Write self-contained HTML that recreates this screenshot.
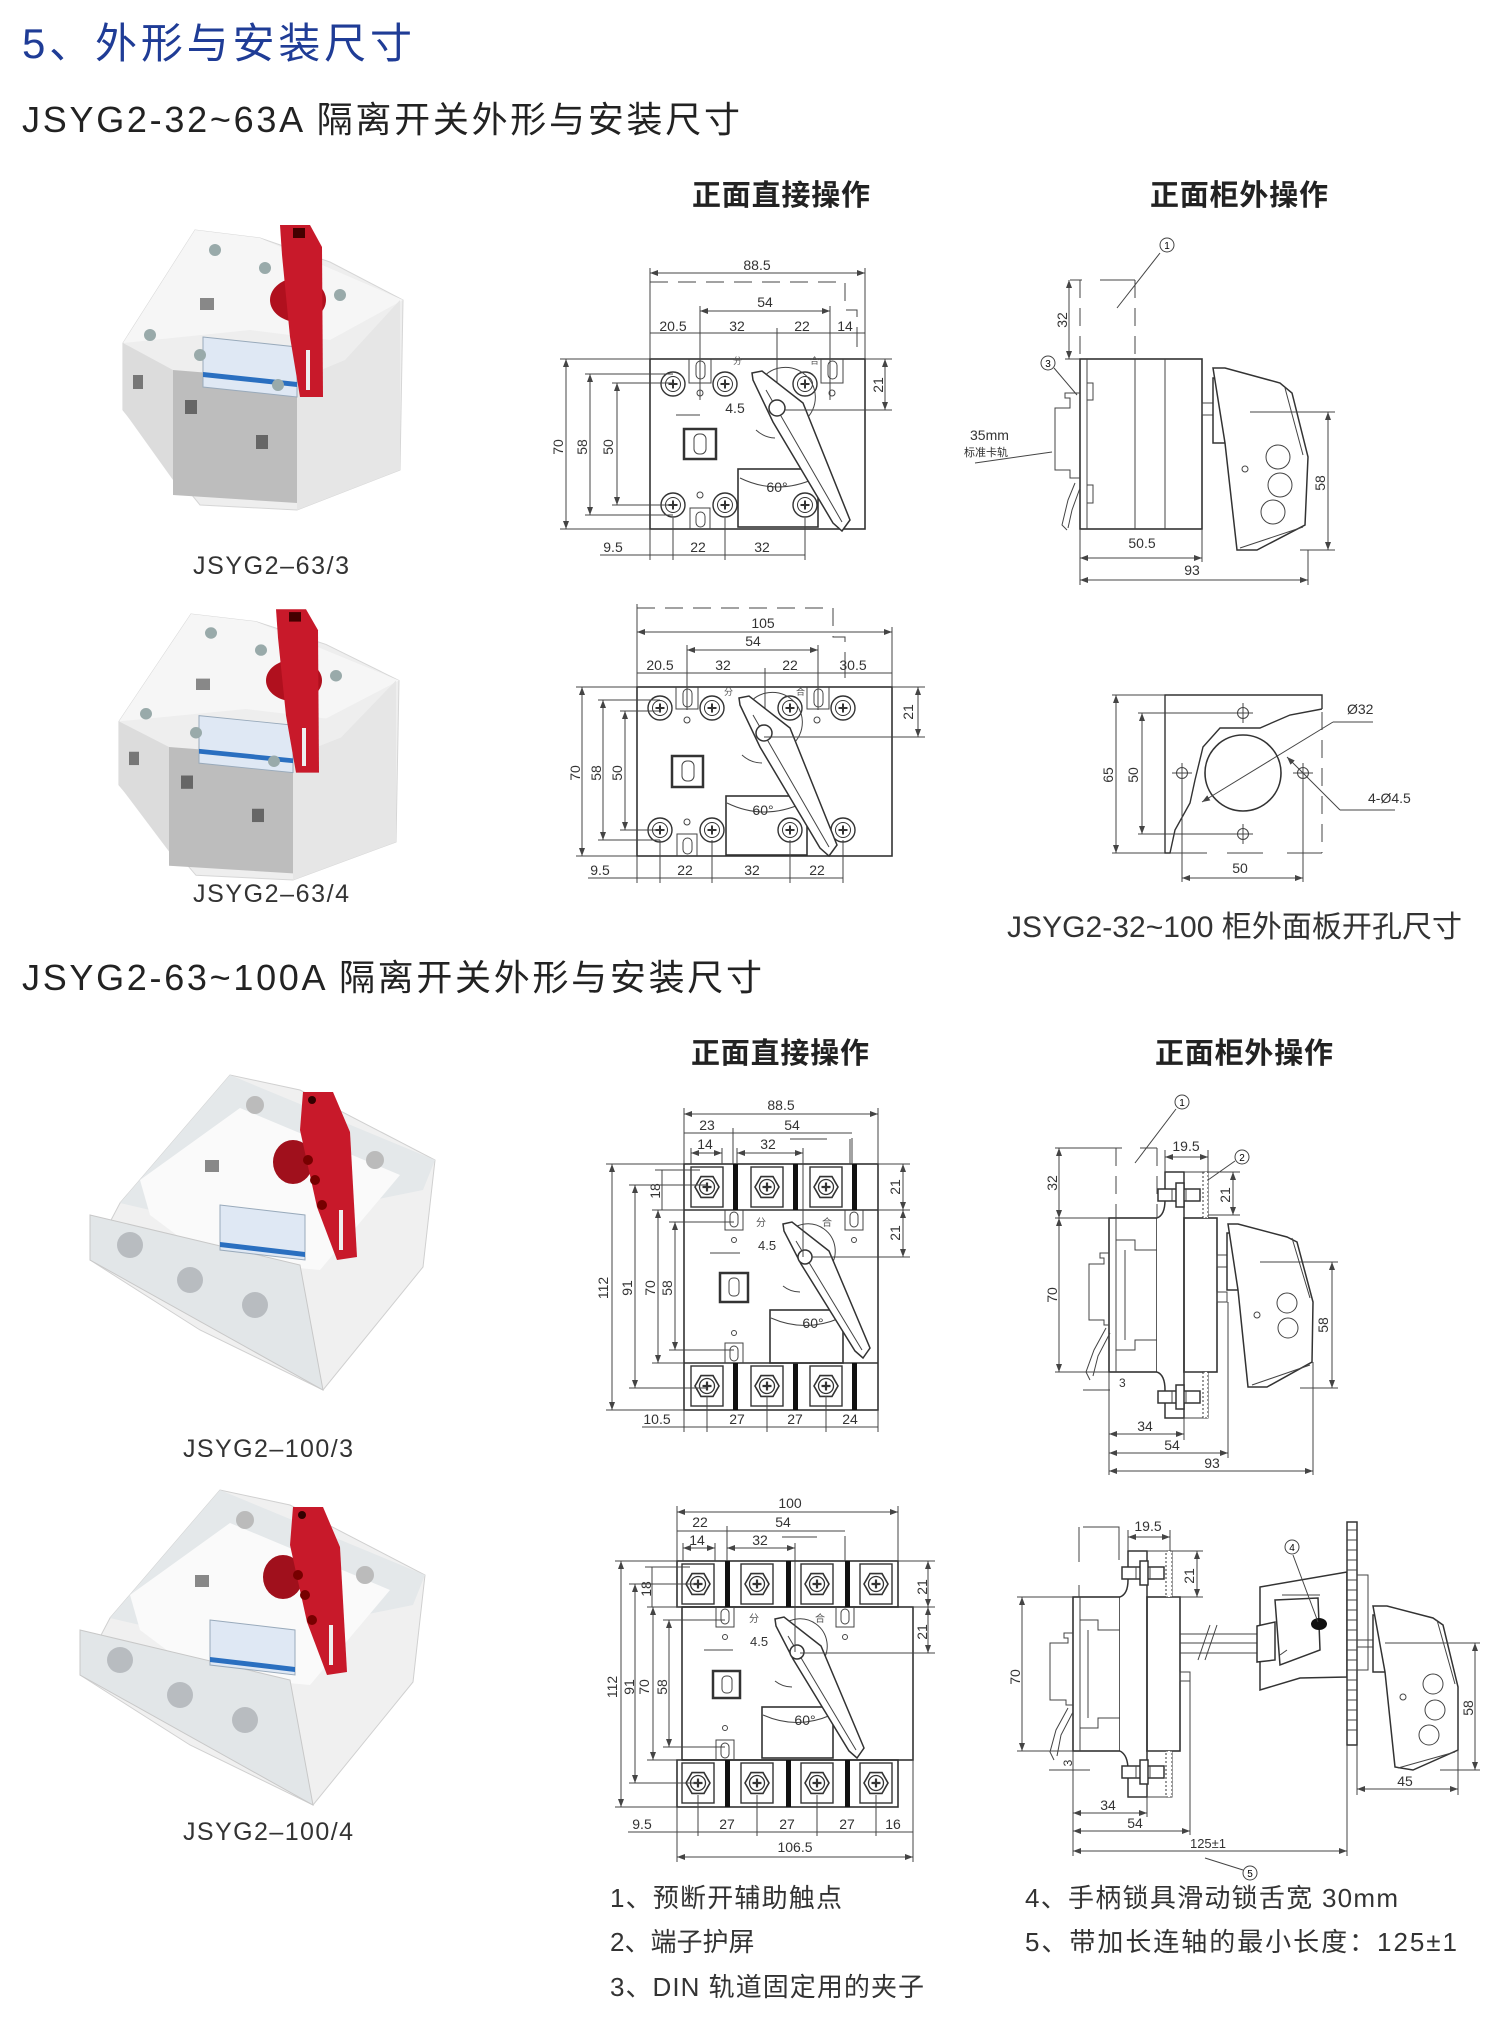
<!DOCTYPE html>
<html><head><meta charset="utf-8">
<style>
html,body{margin:0;padding:0;background:#fff;}
svg{display:block}
text{font-family:"Liberation Sans","Noto Sans CJK SC",sans-serif;}
.d{font-size:14px;fill:#333}
.s{font-size:12px;fill:#333}
.ln{stroke:#444;stroke-width:1;fill:none}
.th{stroke:#333;stroke-width:1.6;fill:none}
.wf{stroke:#333;stroke-width:1.5;fill:#fff}
.dash{stroke:#444;stroke-width:1;fill:none;stroke-dasharray:18 10}
.h2{font-size:29px;fill:#222;font-weight:bold}
.lab{font-size:25px;fill:#333}
.note{font-size:26px;fill:#333}
</style></head>
<body>
<svg width="1500" height="2039" viewBox="0 0 1500 2039" xmlns="http://www.w3.org/2000/svg">
<defs>
<marker id="a" markerWidth="8" markerHeight="6" refX="8" refY="3" orient="auto-start-reverse"><path d="M0,0 L8,3 L0,6 z" fill="#444"/></marker>
<g id="scr"><circle r="12" fill="#fff" stroke="#333" stroke-width="1.4"/><circle r="7.5" fill="none" stroke="#333"/><path d="M-4.5,0H4.5M0,-4.5V4.5" stroke="#333" stroke-width="2"/></g>
<g id="term"><rect x="-16" y="-20" width="32" height="40" fill="#fff" stroke="#333" stroke-width="1.4"/><polygon points="12,0 6,10.4 -6,10.4 -12,0 -6,-10.4 6,-10.4" fill="#fff" stroke="#333" stroke-width="1.6"/><circle r="7.5" fill="none" stroke="#333" stroke-width="1.3"/><path d="M-4.5,0H4.5M0,-4.5V4.5" stroke="#333" stroke-width="2.2"/></g>
<g id="bolt"><rect x="0" y="-6" width="42" height="12" class="wf"/><path d="M14,-6V6M28,-6V6" class="ln"/><rect x="18" y="-12" width="8" height="24" class="wf"/></g>
<g id="photoA">
 <polygon points="123,343 195,230 260,238 330,262 403,300 400,470 297,510 200,505 123,410" fill="#eeeeee" stroke="#d6d6d6"/>
 <polygon points="195,230 260,238 403,300 330,340 250,330 123,343" fill="#f6f6f6"/>
 <polygon points="173,370 297,380 297,503 173,495" fill="#bdbdbd"/>
 <polygon points="297,380 345,360 400,300 400,470 297,510" fill="#e6e6e6"/>
 <polygon points="123,343 173,370 173,480 123,410" fill="#dcdcdc"/>
 <rect x="133" y="375" width="10" height="14" fill="#777"/>
 <rect x="185" y="400" width="12" height="14" fill="#666"/><rect x="256" y="435" width="12" height="14" fill="#666"/>
 <polygon points="203,337 297,347 297,397 203,387" fill="#dfe8f4" stroke="#9ab"/>
 <polygon points="203,372 297,382 297,387 203,377" fill="#2a6fc0"/>
 <rect x="200" y="298" width="14" height="12" fill="#888"/>
 <circle cx="215" cy="250" r="6" fill="#9aa"/><circle cx="265" cy="268" r="6" fill="#9aa"/><circle cx="150" cy="335" r="6" fill="#9aa"/><circle cx="200" cy="355" r="6" fill="#9aa"/><circle cx="340" cy="295" r="6" fill="#9aa"/><circle cx="278" cy="385" r="6" fill="#9aa"/>
 <ellipse cx="298" cy="300" rx="28" ry="22" fill="#b0101e"/>
 <polygon points="280,225 310,225 322,247 323,397 300,397 290,337 282,255" fill="#c8192a"/>
 <rect x="293" y="228" width="12" height="10" fill="#400"/>
 <rect x="306" y="350" width="4" height="40" fill="#eee"/>
</g>
<g id="photoB">
 <polygon points="120,1203 230,1075 300,1090 435,1160 423,1267 323,1390 200,1330 90,1260" fill="#f0f0f0" stroke="#d0d0d0"/>
 <polygon points="230,1075 435,1160 423,1190 300,1215 150,1210 120,1203" fill="#e4e8ea"/>
 <polygon points="140,1180 240,1108 400,1175 320,1270 210,1260 150,1215" fill="#fafafa"/>
 <polygon points="90,1215 300,1265 323,1390 90,1260" fill="#e2e6e8" stroke="#c8c8c8"/>
 <circle cx="130" cy="1245" r="13" fill="#b8bcc0"/><circle cx="190" cy="1280" r="13" fill="#b8bcc0"/><circle cx="255" cy="1305" r="13" fill="#b8bcc0"/>
 <circle cx="255" cy="1105" r="9" fill="#bbb"/><circle cx="375" cy="1160" r="9" fill="#bbb"/>
 <polygon points="220,1205 305,1215 305,1260 220,1250" fill="#dfe8f4" stroke="#9ab"/>
 <polygon points="220,1242 305,1252 305,1257 220,1247" fill="#2a6fc0"/>
 <rect x="205" y="1160" width="14" height="12" fill="#888"/>
 <ellipse cx="293" cy="1162" rx="20" ry="22" fill="#a0101c"/>
 <polygon points="303,1092 333,1092 350,1132 357,1257 337,1260 317,1207 300,1130" fill="#c8192a"/>
 <circle cx="312" cy="1100" r="4" fill="#300"/>
 <circle cx="308" cy="1160" r="5" fill="#700"/><circle cx="315" cy="1180" r="5" fill="#700"/><circle cx="322" cy="1205" r="5" fill="#700"/>
 <rect x="339" y="1210" width="4" height="40" fill="#eee"/>
</g>
</defs>

<!-- titles -->
<text x="22" y="58" font-size="42" fill="#1f3c96" textLength="390">5、外形与安装尺寸</text>
<text x="22" y="132" font-size="36" fill="#222" textLength="718">JSYG2-32~63A 隔离开关外形与安装尺寸</text>
<text x="692" y="205" class="h2" textLength="178">正面直接操作</text>
<text x="1150" y="205" class="h2" textLength="178">正面柜外操作</text>

<use href="#photoA"/>
<text x="193" y="574" class="lab" textLength="156">JSYG2–63/3</text>
<use href="#photoA" transform="translate(-4,386) scale(1,0.95) translate(0,10)"/>
<text x="193" y="902" class="lab" textLength="156">JSYG2–63/4</text>

<!-- Drawing 1 -->
<g>
<rect x="650" y="359" width="215" height="170" class="th"/>
<path d="M650,282H845V310H857V347" class="dash"/>
<line x1="650" y1="273" x2="865" y2="273" class="ln" marker-start="url(#a)" marker-end="url(#a)"/>
<path d="M650,268V359M865,268V359" class="ln"/>
<text x="757" y="270" class="d" text-anchor="middle">88.5</text>
<line x1="700" y1="311" x2="830" y2="311" class="ln" marker-start="url(#a)" marker-end="url(#a)"/>
<text x="765" y="307" class="d" text-anchor="middle">54</text>
<line x1="650" y1="333" x2="865" y2="333" class="ln"/>
<path d="M700,306V400M830,306V400M777,328V408M857,328V347" class="ln"/>
<text x="673" y="331" class="d" text-anchor="middle">20.5</text><text x="737" y="331" class="d" text-anchor="middle">32</text><text x="802" y="331" class="d" text-anchor="middle">22</text><text x="845" y="331" class="d" text-anchor="middle">14</text>
<use href="#scr" x="673" y="384"/><use href="#scr" x="725" y="384"/><use href="#scr" x="805" y="384"/>
<use href="#scr" x="673" y="505"/><use href="#scr" x="725" y="505"/><use href="#scr" x="805" y="505"/>
<path d="M689,359V383H711V359M821,359V383H843V359" class="ln"/><rect x="696" y="361" width="9" height="18" rx="4.5" class="ln"/><rect x="828" y="361" width="9" height="18" rx="4.5" class="ln"/>
<path d="M690,529V508H710V529" class="ln"/><rect x="696" y="512" width="9" height="15" rx="4.5" class="ln"/>
<circle cx="700" cy="393" r="3" class="ln"/><circle cx="832" cy="393" r="3" class="ln"/><circle cx="700" cy="495" r="3" class="ln"/>
<rect x="684" y="429" width="32" height="30" fill="#fff" stroke="#333" stroke-width="2.5"/><rect x="694" y="434" width="12" height="20" rx="5" class="ln" stroke-width="1.5"/>
<rect x="738" y="469" width="80" height="58" class="th"/>
<path d="M758,385 A30,30 0 1 1 805,420" class="ln"/>
<path d="M756,430 A30,30 0 0 0 775,438" class="ln" stroke-width="3"/>
<path d="M740,478 Q777,496 816,478" class="ln"/>
<polygon points="752,373 762,371 803,403 850,520 842,531 833,523 773,422 753,380" class="wf"/>
<line x1="766" y1="390" x2="842" y2="522" class="ln"/>
<circle cx="777" cy="408" r="8" class="wf"/>
<text x="777" y="492" class="d" text-anchor="middle">60°</text>
<text x="735" y="413" class="d" text-anchor="middle">4.5</text>
<line x1="676" y1="415" x2="700" y2="415" class="ln"/>
<text x="733" y="364" font-size="9" fill="#555">分</text><text x="810" y="364" font-size="9" fill="#555">合</text>
<path d="M560,359H650M585,374H673M612,383H673M560,529H650M585,515H673M612,505H673" class="ln"/>
<line x1="566" y1="359" x2="566" y2="529" class="ln" marker-start="url(#a)" marker-end="url(#a)"/>
<line x1="590" y1="374" x2="590" y2="515" class="ln" marker-start="url(#a)" marker-end="url(#a)"/>
<line x1="617" y1="383" x2="617" y2="505" class="ln" marker-start="url(#a)" marker-end="url(#a)"/>
<text transform="translate(563,447) rotate(-90)" class="d" text-anchor="middle">70</text>
<text transform="translate(587,447) rotate(-90)" class="d" text-anchor="middle">58</text>
<text transform="translate(613,447) rotate(-90)" class="d" text-anchor="middle">50</text>
<path d="M865,359H892M785,410H892" class="ln"/>
<line x1="885" y1="359" x2="885" y2="410" class="ln" marker-start="url(#a)" marker-end="url(#a)"/>
<text transform="translate(883,385) rotate(-90)" class="d" text-anchor="middle">21</text>
<path d="M650,529V560M673,518V560M725,518V560M805,518V560" class="ln"/>
<line x1="600" y1="555" x2="805" y2="555" class="ln"/>
<text x="613" y="552" class="d" text-anchor="middle">9.5</text><text x="698" y="552" class="d" text-anchor="middle">22</text><text x="762" y="552" class="d" text-anchor="middle">32</text>
</g>

<!-- Side 1 -->
<g>
<rect x="1080" y="359" width="122" height="170" class="th"/>
<path d="M1087,359V529M1135,359V529M1165,359V529" class="ln"/>
<path d="M1087,383H1093V400H1087M1087,485H1093V503H1087" class="ln"/>
<path d="M1080,280V359M1135,280V359" class="dash"/>
<path d="M1070,280H1082M1100,280H1135" class="ln"/>
<line x1="1069" y1="280" x2="1069" y2="359" class="ln" marker-start="url(#a)" marker-end="url(#a)"/>
<path d="M1065,359H1080" class="ln"/>
<text transform="translate(1067,320) rotate(-90)" class="d" text-anchor="middle">32</text>
<path d="M1080,393H1065V398H1070V408H1055V470H1070V478H1080" class="ln"/>
<path d="M1075,483L1068,500L1062,525L1067,530M1080,488L1072,510L1068,528" class="ln"/>
<circle cx="1048" cy="363" r="7" class="ln"/><text x="1048" y="367" font-size="10" text-anchor="middle">3</text>
<line x1="1054" y1="368" x2="1077" y2="395" class="ln"/>
<text x="970" y="440" font-size="14" fill="#333">35mm</text>
<text x="964" y="456" font-size="11" fill="#333">标准卡轨</text>
<path d="M975,463L1052,452" class="ln"/>
<circle cx="1167" cy="245" r="7" class="ln"/><text x="1167" y="249" font-size="10" text-anchor="middle">1</text>
<path d="M1160,253L1117,308" class="ln"/>
<rect x="1202" y="403" width="48" height="12" class="ln"/>
<rect x="1213" y="378" width="12" height="65" class="wf"/>
<polygon points="1213,368 1225,368 1280,383 1292,393 1308,457 1305,525 1257,550 1237,550 1225,443" class="wf"/>
<path d="M1285,388L1303,455" class="ln"/>
<path d="M1240,548L1303,527" class="ln"/>
<circle cx="1278" cy="457" r="12" class="ln"/><circle cx="1280" cy="485" r="12" class="ln"/><circle cx="1273" cy="512" r="12" class="ln"/>
<circle cx="1245" cy="469" r="3" class="ln"/>
<path d="M1250,412H1335M1300,550H1335" class="ln"/>
<line x1="1328" y1="412" x2="1328" y2="550" class="ln" marker-start="url(#a)" marker-end="url(#a)"/>
<text transform="translate(1325,483) rotate(-90)" class="d" text-anchor="middle">58</text>
<path d="M1080,529V585M1202,529V562M1308,550V585" class="ln"/>
<line x1="1080" y1="558" x2="1202" y2="558" class="ln" marker-start="url(#a)" marker-end="url(#a)"/>
<line x1="1080" y1="580" x2="1308" y2="580" class="ln" marker-start="url(#a)" marker-end="url(#a)"/>
<text x="1142" y="548" class="d" text-anchor="middle">50.5</text><text x="1192" y="575" class="d" text-anchor="middle">93</text>
</g>

<!-- Drawing 2 -->
<g>
<rect x="637" y="687" width="255" height="169" class="th"/>
<path d="M637,608H833V637H845V672" class="dash"/>
<line x1="637" y1="632" x2="892" y2="632" class="ln" marker-start="url(#a)" marker-end="url(#a)"/>
<path d="M637,604V687M892,627V687" class="ln"/>
<text x="763" y="628" class="d" text-anchor="middle">105</text>
<line x1="687" y1="650" x2="818" y2="650" class="ln" marker-start="url(#a)" marker-end="url(#a)"/>
<text x="753" y="646" class="d" text-anchor="middle">54</text>
<line x1="637" y1="673" x2="892" y2="673" class="ln"/>
<path d="M687,645V710M818,645V710M765,668V735M845,668V678" class="ln"/>
<text x="660" y="670" class="d" text-anchor="middle">20.5</text><text x="723" y="670" class="d" text-anchor="middle">32</text><text x="790" y="670" class="d" text-anchor="middle">22</text><text x="853" y="670" class="d" text-anchor="middle">30.5</text>
<use href="#scr" x="660" y="708"/><use href="#scr" x="712" y="708"/><use href="#scr" x="790" y="708"/><use href="#scr" x="843" y="708"/>
<use href="#scr" x="660" y="830"/><use href="#scr" x="712" y="830"/><use href="#scr" x="790" y="830"/><use href="#scr" x="843" y="830"/>
<path d="M676,687V709H698V687M807,687V709H829V687" class="ln"/><rect x="683" y="689" width="9" height="18" rx="4.5" class="ln"/><rect x="814" y="689" width="9" height="18" rx="4.5" class="ln"/>
<path d="M677,856V834H697V856" class="ln"/><rect x="683" y="838" width="9" height="16" rx="4.5" class="ln"/>
<circle cx="687" cy="720" r="3" class="ln"/><circle cx="817" cy="720" r="3" class="ln"/><circle cx="687" cy="822" r="3" class="ln"/>
<rect x="672" y="756" width="31" height="31" fill="#fff" stroke="#333" stroke-width="2.5"/><rect x="682" y="761" width="12" height="20" rx="5" class="ln" stroke-width="1.5"/>
<rect x="726" y="796" width="81" height="59" class="th"/>
<path d="M745,710 A30,30 0 1 1 792,745" class="ln"/>
<path d="M742,755 A30,30 0 0 0 762,763" class="ln" stroke-width="3"/>
<path d="M727,803 Q764,821 803,803" class="ln"/>
<polygon points="739,698 749,696 790,728 837,845 829,856 820,848 760,747 740,705" class="wf"/>
<line x1="753" y1="715" x2="829" y2="847" class="ln"/>
<circle cx="764" cy="733" r="8" class="wf"/>
<text x="763" y="815" class="d" text-anchor="middle">60°</text>
<text x="724" y="695" font-size="9" fill="#555">分</text><text x="796" y="695" font-size="9" fill="#555">合</text>
<path d="M576,687H637M598,700H660M620,711H660M576,856H637M598,840H660M620,830H660" class="ln"/>
<line x1="582" y1="687" x2="582" y2="856" class="ln" marker-start="url(#a)" marker-end="url(#a)"/>
<line x1="603" y1="700" x2="603" y2="840" class="ln" marker-start="url(#a)" marker-end="url(#a)"/>
<line x1="625" y1="711" x2="625" y2="830" class="ln" marker-start="url(#a)" marker-end="url(#a)"/>
<text transform="translate(580,773) rotate(-90)" class="d" text-anchor="middle">70</text>
<text transform="translate(601,773) rotate(-90)" class="d" text-anchor="middle">58</text>
<text transform="translate(622,773) rotate(-90)" class="d" text-anchor="middle">50</text>
<path d="M892,687H925M764,737H925" class="ln"/>
<line x1="918" y1="687" x2="918" y2="737" class="ln" marker-start="url(#a)" marker-end="url(#a)"/>
<text transform="translate(913,712) rotate(-90)" class="d" text-anchor="middle">21</text>
<path d="M637,856V883M660,840V883M712,840V883M790,840V883M843,840V883" class="ln"/>
<line x1="588" y1="878" x2="843" y2="878" class="ln"/>
<text x="600" y="875" class="d" text-anchor="middle">9.5</text><text x="685" y="875" class="d" text-anchor="middle">22</text><text x="752" y="875" class="d" text-anchor="middle">32</text><text x="817" y="875" class="d" text-anchor="middle">22</text>
</g>

<!-- Panel cut -->
<g>
<path d="M1322,709L1290,715L1260,728H1220L1203,747L1195,780L1190,803L1175,830L1170,853H1165V695H1322V709" fill="none" stroke="#333" stroke-width="1.4"/>
<path d="M1322,712V853" class="dash"/>
<path d="M1170,853H1207M1227,853H1263M1287,853H1322" class="ln"/>
<circle cx="1243" cy="773" r="38" class="th"/>
<circle cx="1243" cy="713" r="5.5" class="ln"/><circle cx="1243" cy="834" r="5.5" class="ln"/><circle cx="1182" cy="773" r="5.5" class="ln"/><circle cx="1303" cy="773" r="5.5" class="ln"/>
<path d="M1233,713H1253M1243,703V723M1233,834H1253M1243,824V844M1172,773H1192M1182,763V783M1293,773H1313M1303,763V783" class="ln" stroke-width="0.7"/>
<line x1="1333" y1="722" x2="1202" y2="802" class="ln" marker-end="url(#a)"/><line x1="1333" y1="722" x2="1373" y2="722" class="ln"/>
<text x="1347" y="714" class="d">Ø32</text>
<line x1="1340" y1="810" x2="1287" y2="757" class="ln" marker-end="url(#a)"/><line x1="1340" y1="810" x2="1395" y2="810" class="ln"/>
<text x="1368" y="803" class="d">4-Ø4.5</text>
<path d="M1112,695H1165M1138,713H1240M1138,834H1240M1112,853H1165" class="ln"/>
<line x1="1116" y1="695" x2="1116" y2="853" class="ln" marker-start="url(#a)" marker-end="url(#a)"/>
<line x1="1142" y1="713" x2="1142" y2="834" class="ln" marker-start="url(#a)" marker-end="url(#a)"/>
<text transform="translate(1113,775) rotate(-90)" class="d" text-anchor="middle">65</text>
<text transform="translate(1138,775) rotate(-90)" class="d" text-anchor="middle">50</text>
<path d="M1182,780V882M1303,780V882" class="ln"/>
<line x1="1182" y1="878" x2="1303" y2="878" class="ln" marker-start="url(#a)" marker-end="url(#a)"/>
<text x="1240" y="873" class="d" text-anchor="middle">50</text>
</g>
<text x="1007" y="937" font-size="30" fill="#333" textLength="455">JSYG2-32~100 柜外面板开孔尺寸</text>

<!-- Section 2 -->
<text x="22" y="990" font-size="36" fill="#222" textLength="740">JSYG2-63~100A 隔离开关外形与安装尺寸</text>
<text x="691" y="1063" class="h2" textLength="178">正面直接操作</text>
<text x="1155" y="1063" class="h2" textLength="178">正面柜外操作</text>

<use href="#photoB"/>
<text x="183" y="1457" class="lab" textLength="170">JSYG2–100/3</text>
<use href="#photoB" transform="translate(-10,415)"/>
<text x="183" y="1840" class="lab" textLength="170">JSYG2–100/4</text>

<!-- Drawing 3 -->
<g>
<rect x="684" y="1164" width="194" height="246" class="th"/>
<path d="M684,1210H878M684,1363H878" class="th"/>
<use href="#term" x="707" y="1187"/><use href="#term" x="767" y="1187"/><use href="#term" x="826" y="1187"/>
<use href="#term" x="707" y="1386"/><use href="#term" x="767" y="1386"/><use href="#term" x="826" y="1386"/>
<rect x="733" y="1164" width="5" height="46" fill="#111"/><rect x="793" y="1164" width="5" height="46" fill="#111"/><rect x="852" y="1164" width="5" height="46" fill="#111"/>
<rect x="733" y="1363" width="5" height="47" fill="#111"/><rect x="793" y="1363" width="5" height="47" fill="#111"/><rect x="852" y="1363" width="5" height="47" fill="#111"/>
<path d="M725,1210V1230H743V1210M845,1210V1230H863V1210" class="ln"/><rect x="730" y="1212" width="8" height="15" rx="4" class="ln"/><rect x="850" y="1212" width="8" height="15" rx="4" class="ln"/>
<path d="M725,1363V1343H743V1363" class="ln"/><rect x="730" y="1346" width="8" height="15" rx="4" class="ln"/>
<circle cx="734" cy="1240" r="2.5" class="ln"/><circle cx="854" cy="1240" r="2.5" class="ln"/><circle cx="734" cy="1333" r="2.5" class="ln"/>
<rect x="720" y="1273" width="28" height="29" fill="#fff" stroke="#333" stroke-width="2.5"/><rect x="729" y="1278" width="10" height="18" rx="4" class="ln" stroke-width="1.4"/>
<rect x="770" y="1310" width="73" height="53" class="th"/>
<path d="M786,1235 A27,27 0 1 1 830,1267" class="ln"/>
<path d="M783,1286 A27,27 0 0 0 800,1292" class="ln" stroke-width="3"/>
<path d="M771,1318 Q805,1333 840,1318" class="ln"/>
<polygon points="783,1224 792,1222 829,1251 870,1348 863,1358 855,1351 801,1264 784,1231" class="wf"/>
<line x1="796" y1="1241" x2="862" y2="1350" class="ln"/>
<circle cx="805" cy="1257" r="7" class="wf"/>
<text x="813" y="1328" class="d" text-anchor="middle">60°</text>
<text x="758" y="1250" font-size="13" fill="#333">4.5</text>
<line x1="710" y1="1253" x2="740" y2="1253" class="ln"/>
<text x="756" y="1226" font-size="10" fill="#555">分</text><text x="822" y="1226" font-size="10" fill="#555">合</text>
<line x1="684" y1="1114" x2="878" y2="1114" class="ln" marker-start="url(#a)" marker-end="url(#a)"/>
<text x="781" y="1110" class="d" text-anchor="middle">88.5</text>
<line x1="684" y1="1133" x2="852" y2="1133" class="ln"/>
<text x="707" y="1130" class="d" text-anchor="middle">23</text><text x="792" y="1130" class="d" text-anchor="middle">54</text>
<line x1="691" y1="1153" x2="722" y2="1153" class="ln" marker-start="url(#a)" marker-end="url(#a)"/>
<line x1="737" y1="1153" x2="803" y2="1153" class="ln" marker-start="url(#a)" marker-end="url(#a)"/>
<text x="705" y="1149" class="d" text-anchor="middle">14</text><text x="768" y="1149" class="d" text-anchor="middle">32</text>
<path d="M684,1108V1164M878,1108V1164M733,1128V1164M852,1138V1164M691,1148V1164M722,1148V1164M737,1148V1164M803,1148V1257M790,1139H827M850,1139V1164" class="ln"/>
<path d="M606,1164H684M629,1185H707M652,1210H684M669,1222H734M606,1410H684M629,1388H707M652,1363H684M669,1350H734M655,1170H700" class="ln"/>
<line x1="612" y1="1164" x2="612" y2="1410" class="ln" marker-start="url(#a)" marker-end="url(#a)"/>
<line x1="635" y1="1185" x2="635" y2="1388" class="ln" marker-start="url(#a)" marker-end="url(#a)"/>
<line x1="658" y1="1210" x2="658" y2="1363" class="ln" marker-start="url(#a)" marker-end="url(#a)"/>
<line x1="675" y1="1222" x2="675" y2="1350" class="ln" marker-start="url(#a)" marker-end="url(#a)"/>
<line x1="662" y1="1170" x2="662" y2="1210" class="ln"/>
<text transform="translate(608,1288) rotate(-90)" class="d" text-anchor="middle">112</text>
<text transform="translate(632,1288) rotate(-90)" class="d" text-anchor="middle">91</text>
<text transform="translate(655,1288) rotate(-90)" class="d" text-anchor="middle">70</text>
<text transform="translate(672,1288) rotate(-90)" class="d" text-anchor="middle">58</text>
<text transform="translate(660,1191) rotate(-90)" class="d" text-anchor="middle">18</text>
<path d="M878,1164H910M878,1210H910M812,1257H910" class="ln"/>
<line x1="903" y1="1164" x2="903" y2="1210" class="ln" marker-start="url(#a)" marker-end="url(#a)"/>
<line x1="903" y1="1210" x2="903" y2="1257" class="ln" marker-start="url(#a)" marker-end="url(#a)"/>
<text transform="translate(900,1187) rotate(-90)" class="d" text-anchor="middle">21</text>
<text transform="translate(900,1233) rotate(-90)" class="d" text-anchor="middle">21</text>
<path d="M684,1410V1432M707,1396V1432M767,1396V1432M826,1396V1432M878,1410V1432" class="ln"/>
<line x1="642" y1="1427" x2="878" y2="1427" class="ln"/>
<text x="657" y="1424" class="d" text-anchor="middle">10.5</text><text x="737" y="1424" class="d" text-anchor="middle">27</text><text x="795" y="1424" class="d" text-anchor="middle">27</text><text x="850" y="1424" class="d" text-anchor="middle">24</text>
</g>

<!-- Side 3 -->
<g>
<rect x="1109" y="1218" width="48" height="154" class="th"/>
<path d="M1116,1218V1372M1116,1240H1135V1250H1157M1116,1350H1135V1340H1157M1125,1250V1340" class="ln"/>
<path d="M1157,1218Q1165,1215 1165,1200V1172H1184V1418H1165V1390Q1165,1375 1157,1372" class="wf"/>
<rect x="1184" y="1218" width="33" height="154" class="th"/>
<path d="M1184,1172H1208V1218M1184,1372H1208V1418H1184" class="ln"/>
<rect x="1203" y="1172" width="5" height="46" fill="#fff" stroke="#333" stroke-dasharray="2 2"/>
<rect x="1203" y="1372" width="5" height="46" fill="#fff" stroke="#333" stroke-dasharray="2 2"/>
<use href="#bolt" x="1158" y="1195"/><use href="#bolt" x="1158" y="1397"/>
<path d="M1109,1253H1100V1258H1104V1264H1089V1320H1104V1325H1109" class="ln"/>
<path d="M1106,1328L1094,1350L1086,1372L1090,1380M1110,1333L1098,1356L1093,1376" class="ln"/>
<path d="M1116,1148V1218M1157,1148V1218" class="dash"/>
<path d="M1055,1148H1122M1140,1148H1157" class="ln"/>
<line x1="1059" y1="1148" x2="1059" y2="1218" class="ln" marker-start="url(#a)" marker-end="url(#a)"/>
<line x1="1059" y1="1218" x2="1059" y2="1372" class="ln" marker-start="url(#a)" marker-end="url(#a)"/>
<path d="M1055,1218H1109M1055,1372H1109" class="ln"/>
<text transform="translate(1057,1183) rotate(-90)" class="d" text-anchor="middle">32</text>
<text transform="translate(1057,1295) rotate(-90)" class="d" text-anchor="middle">70</text>
<circle cx="1182" cy="1102" r="7" class="ln"/><text x="1182" y="1106" font-size="10" text-anchor="middle">1</text>
<path d="M1176,1109L1135,1163" class="ln"/>
<path d="M1165,1150V1172M1208,1150V1172" class="ln"/>
<line x1="1165" y1="1157" x2="1208" y2="1157" class="ln" marker-start="url(#a)" marker-end="url(#a)"/>
<text x="1186" y="1151" class="d" text-anchor="middle">19.5</text>
<circle cx="1242" cy="1157" r="7" class="ln"/><text x="1242" y="1161" font-size="10" text-anchor="middle">2</text>
<path d="M1235,1161L1208,1180" class="ln"/>
<path d="M1208,1172H1240M1208,1215H1240" class="ln"/>
<line x1="1233" y1="1172" x2="1233" y2="1215" class="ln" marker-start="url(#a)" marker-end="url(#a)"/>
<text transform="translate(1230,1195) rotate(-90)" class="d" text-anchor="middle">21</text>
<rect x="1217" y="1255" width="43" height="12" class="ln"/>
<rect x="1227" y="1233" width="11" height="57" class="wf"/>
<rect x="1217" y="1292" width="10" height="10" class="ln"/>
<polygon points="1228,1224 1238,1224 1287,1237 1297,1242 1313,1302 1312,1362 1267,1387 1248,1387 1238,1290" class="wf"/>
<path d="M1292,1238L1310,1298M1252,1385L1310,1365" class="ln"/>
<circle cx="1287" cy="1303" r="10" class="ln"/><circle cx="1288" cy="1328" r="10" class="ln"/><circle cx="1257" cy="1315" r="3" class="ln"/>
<path d="M1260,1262H1338M1300,1388H1338" class="ln"/>
<line x1="1332" y1="1262" x2="1332" y2="1388" class="ln" marker-start="url(#a)" marker-end="url(#a)"/>
<text transform="translate(1328,1325) rotate(-90)" class="d" text-anchor="middle">58</text>
<text x="1119" y="1387" class="s">3</text>
<line x1="1083" y1="1390" x2="1110" y2="1390" class="ln"/>
<path d="M1109,1372V1475M1184,1418V1440M1228,1302V1458M1313,1362V1475" class="ln"/>
<line x1="1109" y1="1434" x2="1184" y2="1434" class="ln" marker-start="url(#a)" marker-end="url(#a)"/>
<line x1="1109" y1="1453" x2="1228" y2="1453" class="ln" marker-start="url(#a)" marker-end="url(#a)"/>
<line x1="1109" y1="1471" x2="1313" y2="1471" class="ln" marker-start="url(#a)" marker-end="url(#a)"/>
<text x="1145" y="1431" class="d" text-anchor="middle">34</text><text x="1172" y="1450" class="d" text-anchor="middle">54</text><text x="1212" y="1468" class="d" text-anchor="middle">93</text>
</g>

<!-- Drawing 4 -->
<g>
<rect x="677" y="1561" width="221" height="46" class="th"/>
<rect x="682" y="1607" width="231" height="153" class="th"/>
<rect x="677" y="1760" width="221" height="47" class="th"/>
<use href="#term" x="698" y="1584"/><use href="#term" x="757" y="1584"/><use href="#term" x="817" y="1584"/><use href="#term" x="876" y="1584"/>
<use href="#term" x="698" y="1783"/><use href="#term" x="757" y="1783"/><use href="#term" x="817" y="1783"/><use href="#term" x="876" y="1783"/>
<rect x="725" y="1561" width="5" height="46" fill="#111"/><rect x="786" y="1561" width="5" height="46" fill="#111"/><rect x="845" y="1561" width="5" height="46" fill="#111"/>
<rect x="725" y="1760" width="5" height="47" fill="#111"/><rect x="786" y="1760" width="5" height="47" fill="#111"/><rect x="845" y="1760" width="5" height="47" fill="#111"/>
<path d="M716,1607V1627H734V1607M836,1607V1627H854V1607" class="ln"/><rect x="721" y="1609" width="8" height="15" rx="4" class="ln"/><rect x="841" y="1609" width="8" height="15" rx="4" class="ln"/>
<path d="M716,1760V1740H734V1760" class="ln"/><rect x="721" y="1743" width="8" height="15" rx="4" class="ln"/>
<circle cx="725" cy="1637" r="2.5" class="ln"/><circle cx="845" cy="1637" r="2.5" class="ln"/><circle cx="725" cy="1728" r="2.5" class="ln"/>
<rect x="713" y="1671" width="27" height="27" fill="#fff" stroke="#333" stroke-width="2.5"/><rect x="722" y="1676" width="10" height="17" rx="4" class="ln" stroke-width="1.4"/>
<rect x="762" y="1707" width="71" height="51" class="th"/>
<path d="M778,1630 A27,27 0 1 1 822,1662" class="ln"/>
<path d="M775,1681 A27,27 0 0 0 792,1687" class="ln" stroke-width="3"/>
<path d="M763,1715 Q797,1730 831,1715" class="ln"/>
<polygon points="775,1619 784,1617 821,1646 864,1748 857,1758 849,1751 793,1659 776,1626" class="wf"/>
<line x1="788" y1="1636" x2="856" y2="1750" class="ln"/>
<circle cx="797" cy="1652" r="7" class="wf"/>
<text x="805" y="1725" class="d" text-anchor="middle">60°</text>
<text x="750" y="1646" font-size="13" fill="#333">4.5</text>
<line x1="704" y1="1650" x2="733" y2="1650" class="ln"/>
<text x="749" y="1622" font-size="10" fill="#555">分</text><text x="815" y="1622" font-size="10" fill="#555">合</text>
<line x1="677" y1="1512" x2="898" y2="1512" class="ln" marker-start="url(#a)" marker-end="url(#a)"/>
<text x="790" y="1508" class="d" text-anchor="middle">100</text>
<line x1="677" y1="1531" x2="845" y2="1531" class="ln"/>
<text x="700" y="1527" class="d" text-anchor="middle">22</text><text x="783" y="1527" class="d" text-anchor="middle">54</text>
<line x1="683" y1="1548" x2="715" y2="1548" class="ln" marker-start="url(#a)" marker-end="url(#a)"/>
<line x1="727" y1="1548" x2="795" y2="1548" class="ln" marker-start="url(#a)" marker-end="url(#a)"/>
<text x="697" y="1545" class="d" text-anchor="middle">14</text><text x="760" y="1545" class="d" text-anchor="middle">32</text>
<path d="M677,1506V1561M898,1506V1561M727,1526V1561M845,1536V1561M683,1543V1561M715,1543V1561M795,1543V1652M782,1537H817" class="ln"/>
<path d="M615,1561H677M629,1584H698M647,1607H682M663,1620H725M615,1807H677M629,1783H698M647,1760H682M663,1747H725M645,1567H690" class="ln"/>
<line x1="621" y1="1561" x2="621" y2="1807" class="ln" marker-start="url(#a)" marker-end="url(#a)"/>
<line x1="635" y1="1584" x2="635" y2="1783" class="ln" marker-start="url(#a)" marker-end="url(#a)"/>
<line x1="653" y1="1607" x2="653" y2="1760" class="ln" marker-start="url(#a)" marker-end="url(#a)"/>
<line x1="669" y1="1620" x2="669" y2="1747" class="ln" marker-start="url(#a)" marker-end="url(#a)"/>
<line x1="652" y1="1567" x2="652" y2="1607" class="ln"/>
<text transform="translate(617,1687) rotate(-90)" class="d" text-anchor="middle">112</text>
<text transform="translate(634,1687) rotate(-90)" class="d" text-anchor="middle">91</text>
<text transform="translate(649,1687) rotate(-90)" class="d" text-anchor="middle">70</text>
<text transform="translate(667,1687) rotate(-90)" class="d" text-anchor="middle">58</text>
<text transform="translate(651,1589) rotate(-90)" class="d" text-anchor="middle">18</text>
<path d="M898,1561H935M913,1607H935M800,1653H935" class="ln"/>
<line x1="928" y1="1561" x2="928" y2="1607" class="ln" marker-start="url(#a)" marker-end="url(#a)"/>
<line x1="928" y1="1607" x2="928" y2="1653" class="ln" marker-start="url(#a)" marker-end="url(#a)"/>
<text transform="translate(927,1587) rotate(-90)" class="d" text-anchor="middle">21</text>
<text transform="translate(927,1632) rotate(-90)" class="d" text-anchor="middle">21</text>
<path d="M677,1807V1862M698,1795V1836M757,1795V1836M817,1795V1836M876,1795V1836M913,1760V1862" class="ln"/>
<line x1="628" y1="1832" x2="913" y2="1832" class="ln"/>
<text x="642" y="1829" class="d" text-anchor="middle">9.5</text><text x="727" y="1829" class="d" text-anchor="middle">27</text><text x="787" y="1829" class="d" text-anchor="middle">27</text><text x="847" y="1829" class="d" text-anchor="middle">27</text><text x="893" y="1829" class="d" text-anchor="middle">16</text>
<line x1="677" y1="1857" x2="913" y2="1857" class="ln" marker-start="url(#a)" marker-end="url(#a)"/>
<text x="795" y="1852" class="d" text-anchor="middle">106.5</text>
</g>

<!-- Side 4 -->
<g>
<rect x="1073" y="1597" width="47" height="154" class="th"/>
<path d="M1080,1597V1751M1080,1620H1098V1630H1120M1080,1728H1098V1718H1120M1088,1630V1718" class="ln"/>
<path d="M1120,1597Q1128,1594 1128,1580V1551H1147V1797H1128V1770Q1128,1755 1120,1751" class="wf"/>
<rect x="1147" y="1597" width="33" height="154" class="th"/>
<path d="M1147,1551H1172V1597M1147,1751H1172V1797H1147" class="ln"/>
<rect x="1166" y="1551" width="6" height="46" fill="#fff" stroke="#333" stroke-dasharray="2 2"/>
<rect x="1166" y="1751" width="6" height="46" fill="#fff" stroke="#333" stroke-dasharray="2 2"/>
<use href="#bolt" x="1122" y="1573"/><use href="#bolt" x="1122" y="1772"/>
<path d="M1073,1633H1064V1638H1068V1643H1050V1700H1066V1705H1073" class="ln"/>
<path d="M1068,1708L1056,1730L1050,1752L1054,1760M1073,1712L1061,1735L1057,1756" class="ln"/>
<path d="M1079,1527V1562M1079,1585V1597" class="ln"/>
<path d="M1083,1527H1119V1560" class="ln"/>
<path d="M1180,1634H1260M1180,1643H1260M1180,1653H1260" class="ln"/>
<path d="M1198,1660L1210,1625M1205,1660L1217,1625" class="ln"/>
<rect x="1180" y="1672" width="10" height="9" class="ln"/>
<polygon points="1260,1587 1347,1572 1347,1677 1300,1678 1260,1690" class="wf"/>
<polygon points="1257,1626 1275,1622 1275,1660 1257,1662" class="wf"/>
<polygon points="1275,1600 1318,1598 1320,1650 1280,1665" class="wf"/>
<path d="M1282,1595H1320M1280,1655L1287,1650" class="ln"/>
<ellipse cx="1319" cy="1624" rx="8" ry="6" fill="#111"/>
<circle cx="1292" cy="1547" r="7" class="ln"/><text x="1292" y="1551" font-size="10" text-anchor="middle">4</text>
<path d="M1293,1555L1318,1622" class="ln"/>
<rect x="1347" y="1522" width="10" height="223" class="wf"/>
<path d="M1347,1530h10M1347,1540h10M1347,1550h10M1347,1560h10M1347,1570h10M1347,1580h10M1347,1590h10M1347,1600h10M1347,1610h10M1347,1620h10M1347,1630h10M1347,1640h10M1347,1650h10M1347,1660h10M1347,1670h10M1347,1680h10M1347,1690h10M1347,1700h10M1347,1710h10M1347,1720h10M1347,1730h10" class="ln" stroke-width="0.7"/>
<rect x="1357" y="1575" width="11" height="95" class="ln"/>
<rect x="1357" y="1640" width="16" height="7" class="ln"/>
<rect x="1373" y="1615" width="12" height="57" class="wf"/>
<polygon points="1373,1606 1387,1606 1433,1618 1443,1625 1458,1687 1458,1750 1413,1770 1395,1767 1385,1672" class="wf"/>
<path d="M1437,1620L1455,1684M1398,1768L1455,1752" class="ln"/>
<circle cx="1433" cy="1684" r="10" class="ln"/><circle cx="1435" cy="1710" r="10" class="ln"/><circle cx="1429" cy="1735" r="10" class="ln"/><circle cx="1403" cy="1697" r="3" class="ln"/>
<path d="M1385,1643H1480M1440,1770H1480" class="ln"/>
<line x1="1475" y1="1643" x2="1475" y2="1770" class="ln" marker-start="url(#a)" marker-end="url(#a)"/>
<text transform="translate(1473,1708) rotate(-90)" class="d" text-anchor="middle">58</text>
<path d="M1357,1745V1795M1458,1750V1795" class="ln"/>
<line x1="1357" y1="1789" x2="1458" y2="1789" class="ln" marker-start="url(#a)" marker-end="url(#a)"/>
<text x="1405" y="1786" class="d" text-anchor="middle">45</text>
<path d="M1128,1530V1551M1170,1530V1551" class="ln"/>
<line x1="1128" y1="1537" x2="1170" y2="1537" class="ln" marker-start="url(#a)" marker-end="url(#a)"/>
<text x="1148" y="1531" class="d" text-anchor="middle">19.5</text>
<path d="M1172,1551H1203M1172,1597H1203" class="ln"/>
<line x1="1197" y1="1551" x2="1197" y2="1597" class="ln" marker-start="url(#a)" marker-end="url(#a)"/>
<text transform="translate(1194,1576) rotate(-90)" class="d" text-anchor="middle">21</text>
<path d="M1017,1597H1073M1017,1751H1073" class="ln"/>
<line x1="1022" y1="1597" x2="1022" y2="1751" class="ln" marker-start="url(#a)" marker-end="url(#a)"/>
<text transform="translate(1020,1677) rotate(-90)" class="d" text-anchor="middle">70</text>
<text transform="translate(1072,1763) rotate(-90)" class="s" text-anchor="middle">3</text>
<line x1="1049" y1="1770" x2="1090" y2="1770" class="ln"/>
<path d="M1073,1751V1856M1147,1797V1817M1190,1681V1835M1347,1745V1856" class="ln"/>
<line x1="1073" y1="1813" x2="1147" y2="1813" class="ln" marker-start="url(#a)" marker-end="url(#a)"/>
<line x1="1073" y1="1831" x2="1190" y2="1831" class="ln" marker-start="url(#a)" marker-end="url(#a)"/>
<line x1="1073" y1="1851" x2="1347" y2="1851" class="ln" marker-start="url(#a)" marker-end="url(#a)"/>
<text x="1108" y="1810" class="d" text-anchor="middle">34</text><text x="1135" y="1828" class="d" text-anchor="middle">54</text><text x="1208" y="1848" font-size="13" fill="#333" text-anchor="middle">125±1</text>
<path d="M1205,1858L1243,1870" class="ln"/>
<circle cx="1250" cy="1873" r="7" class="ln"/><text x="1250" y="1877" font-size="10" text-anchor="middle">5</text>
</g>

<!-- notes -->
<text x="610" y="1907" class="note" textLength="232">1、预断开辅助触点</text>
<text x="610" y="1951" class="note">2、端子护屏</text>
<text x="610" y="1996" class="note" textLength="314">3、DIN 轨道固定用的夹子</text>
<text x="1025" y="1907" class="note" textLength="373">4、手柄锁具滑动锁舌宽 30mm</text>
<text x="1025" y="1951" class="note" textLength="432">5、带加长连轴的最小长度：125±1</text>
</svg>
</body></html>
